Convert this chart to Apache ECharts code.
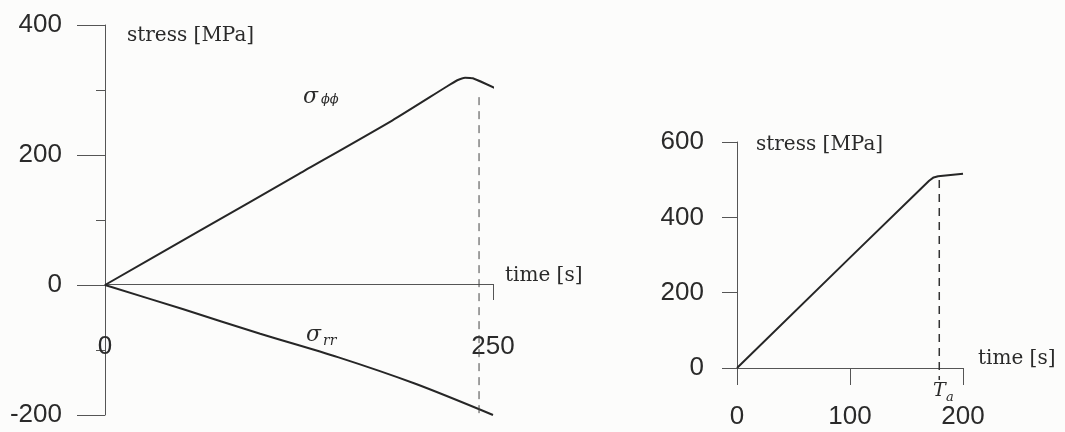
<!DOCTYPE html>
<html>
<head>
<meta charset="utf-8">
<script src="https://cdn.jsdelivr.net/npm/echarts@6/dist/echarts.min.js"></script>
<style>
html,body{margin:0;padding:0;background:#fcfcfb;}
#chart{width:1065px;height:432px;}
</style>
</head>
<body>
<div id="chart"></div>
<script>
// ---- data (left chart: stresses vs time) ----
var sigmaPhiPhi = [[0,0],[60,82],[125,171],[185,253],[220,305],[227,315],[232,319],[237,318],[252,302]];
var sigmaRR = [[0,0],[50,-37],[100,-75],[150,-111],[200,-152],[250,-200]];
var leftDashT = 241;
var leftDash = [[leftDashT,289],[leftDashT,-200]];
var leftYTicks = [-200, 0, 200, 400];
var leftXTicks = [0, 250];

// ---- data (right chart) ----
var rightStress = [[0,0],[100,293],[170,497],[174,506],[178,509],[200,516]];
var rightDashT = 179;
var rightDash = [[rightDashT,499],[rightDashT,-32]];
var rightXTicks = [0, 100, 200];
var rightYTicks = [0, 200, 400, 600];

var axisColor = '#555';
var lineColor = '#262626';
var textColor = '#2a2a2a';
var tickFont = {fontFamily:'Liberation Sans', fontSize:26, color:textColor};

var chart = echarts.init(document.getElementById('chart'), null, {renderer:'canvas'});

var option = {
  backgroundColor:'#fcfcfb',
  animation:false,
  grid:[
    // left chart, full value range -200..400
    {left:105, top:25, width:388, height:390, containLabel:false, outerBoundsMode:'none'},
    // right chart
    {left:737, top:142, width:226, height:226, containLabel:false, outerBoundsMode:'none'},
    // left chart, upper half (0..400) used only to host the time axis at stress = 0
    {left:105, top:25, width:388, height:259, containLabel:false, outerBoundsMode:'none'}
  ],
  xAxis:[
    {gridIndex:0, type:'value', min:leftXTicks[0], max:leftXTicks[1], show:false},
    {gridIndex:1, type:'value', min:rightXTicks[0], max:rightXTicks[2], interval:100,
     axisLine:{show:true, onZero:false, lineStyle:{color:axisColor, width:1}},
     axisTick:{show:true, length:17, lineStyle:{color:axisColor}},
     axisLabel:Object.assign({margin:36}, tickFont),
     splitLine:{show:false}},
    {gridIndex:2, type:'value', position:'bottom', min:leftXTicks[0], max:leftXTicks[1], interval:250,
     axisLine:{show:true, onZero:false, lineStyle:{color:axisColor, width:1}},
     axisTick:{show:true, length:16, lineStyle:{color:axisColor}},
     axisLabel:Object.assign({margin:50, showMinLabel:true, showMaxLabel:true}, tickFont),
     splitLine:{show:false}}
  ],
  yAxis:[
    {gridIndex:0, type:'value', min:leftYTicks[0], max:leftYTicks[3], interval:200,
     axisLine:{show:true, onZero:false, lineStyle:{color:axisColor, width:1}},
     axisTick:{show:true, length:28, lineStyle:{color:axisColor}},
     minorTick:{show:true, splitNumber:2, length:9, lineStyle:{color:axisColor}},
     axisLabel:Object.assign({margin:43}, tickFont),
     splitLine:{show:false}, minorSplitLine:{show:false}},
    {gridIndex:1, type:'value', min:rightYTicks[0], max:rightYTicks[3], interval:200,
     axisLine:{show:true, onZero:false, lineStyle:{color:axisColor, width:1}},
     axisTick:{show:true, length:15, lineStyle:{color:axisColor}},
     axisLabel:Object.assign({margin:33}, tickFont),
     splitLine:{show:false}},
    {gridIndex:2, type:'value', min:0, max:leftYTicks[3], show:false}
  ],
  series:[
    {type:'line', xAxisIndex:0, yAxisIndex:0, data:sigmaPhiPhi, showSymbol:false, clip:false, smooth:0.2,
     lineStyle:{color:lineColor, width:2}},
    {type:'line', xAxisIndex:0, yAxisIndex:0, data:sigmaRR, showSymbol:false, clip:false, smooth:0.3,
     lineStyle:{color:lineColor, width:2}},
    {type:'line', xAxisIndex:0, yAxisIndex:0, data:leftDash, showSymbol:false, clip:false,
     lineStyle:{color:'#444', width:1, type:[8,6]}},
    {type:'line', xAxisIndex:1, yAxisIndex:1, data:rightStress, showSymbol:false, clip:false,
     lineStyle:{color:lineColor, width:2}},
    {type:'line', xAxisIndex:1, yAxisIndex:1, data:rightDash, showSymbol:false, clip:false,
     lineStyle:{color:'#333', width:1.5, type:[8,6]}}
  ],
  graphic:[
    {type:'text', x:127, y:36, style:{text:'stress [MPa]', font:'20px "DejaVu Serif"', fill:textColor, verticalAlign:'middle'}},
    {type:'text', x:505, y:276, style:{text:'time [s]', font:'20px "DejaVu Serif"', fill:textColor, verticalAlign:'middle'}},
    {type:'text', x:756, y:145, style:{text:'stress [MPa]', font:'20px "DejaVu Serif"', fill:textColor, verticalAlign:'middle'}},
    {type:'text', x:978, y:359, style:{text:'time [s]', font:'20px "DejaVu Serif"', fill:textColor, verticalAlign:'middle'}},
    {type:'text', x:303, y:97, style:{text:'σ', font:'italic 22px "DejaVu Serif"', fill:textColor, verticalAlign:'middle'}},
    {type:'text', x:321, y:100, style:{text:'ϕϕ', font:'italic 13px "DejaVu Serif"', fill:textColor, verticalAlign:'middle'}},
    {type:'text', x:306, y:335, style:{text:'σ', font:'italic 22px "DejaVu Serif"', fill:textColor, verticalAlign:'middle'}},
    {type:'text', x:323, y:341, style:{text:'rr', font:'italic 14px "DejaVu Serif"', fill:textColor, verticalAlign:'middle'}},
    {type:'text', x:933, y:391, style:{text:'T', font:'italic 19px "DejaVu Serif"', fill:textColor, verticalAlign:'middle'}},
    {type:'text', x:946, y:398, style:{text:'a', font:'italic 13px "DejaVu Serif"', fill:textColor, verticalAlign:'middle'}}
  ]
};
chart.setOption(option);
</script>
</body>
</html>
